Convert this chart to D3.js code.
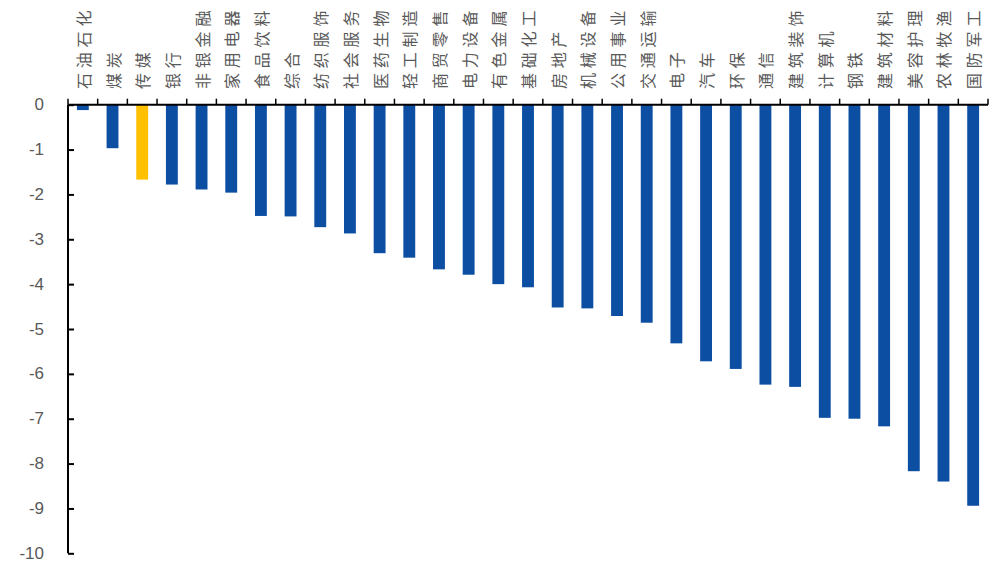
<!DOCTYPE html>
<html>
<head>
<meta charset="utf-8">
<script src="https://cdn.jsdelivr.net/npm/d3@7"></script>
<style>
  html, body { margin: 0; padding: 0; background: #fff; }
  svg { display: block; }
</style>
</head>
<body>
<svg id="chart" width="994" height="562"></svg>
<script>
// Industry names (申万一级) and their returns, %
const categories = ["石油石化","煤炭","传媒","银行","非银金融","家用电器","食品饮料","综合","纺织服饰","社会服务","医药生物","轻工制造","商贸零售","电力设备","有色金属","基础化工","房地产","机械设备","公用事业","交通运输","电子","汽车","环保","通信","建筑装饰","计算机","钢铁","建筑材料","美容护理","农林牧渔","国防军工"];
const values = [-0.12,-0.97,-1.67,-1.78,-1.89,-1.96,-2.48,-2.49,-2.73,-2.87,-3.31,-3.41,-3.67,-3.79,-4.0,-4.07,-4.52,-4.54,-4.71,-4.86,-5.32,-5.72,-5.89,-6.24,-6.29,-6.98,-7.0,-7.17,-8.17,-8.4,-8.94];
const highlighted = ["传媒"];
const yTicks = [0,-1,-2,-3,-4,-5,-6,-7,-8,-9,-10];

const svg = d3.select("#chart");
const plotLeft = 68, plotRight = 988, plotTop = 104.7, plotBottom = 553.3;

const x = d3.scaleBand().domain(categories).range([plotLeft, plotRight]).paddingInner(0.6).paddingOuter(0.3);
const xEdge = d3.scaleLinear().domain([0, categories.length]).range([plotLeft, plotRight]);
const y = d3.scaleLinear().domain([0, -10]).range([plotTop, plotBottom]);

// bars
svg.append("g").selectAll("rect").data(categories).join("rect")
  .attr("x", d => x(d))
  .attr("width", x.bandwidth())
  .attr("y", y(0))
  .attr("height", (d, i) => y(values[i]) - y(0))
  .attr("fill", d => highlighted.includes(d) ? "#FFC000" : "#0B4EA2");

// vertical axis with inward ticks
const yAxis = d3.axisRight(y).tickValues(yTicks).tickSize(6).tickFormat("");
const gy = svg.append("g").attr("transform", `translate(${plotLeft},0)`).call(yAxis);
gy.select(".domain").attr("stroke", "#000").attr("stroke-width", 2).attr("d", `M0,${plotTop}V${plotBottom}`);
gy.selectAll(".tick line").attr("stroke", "#000").attr("stroke-width", 2);

// y tick labels
svg.append("g").selectAll("text").data(yTicks).join("text")
  .attr("x", 44)
  .attr("y", d => y(d))
  .attr("text-anchor", "end")
  .attr("dominant-baseline", "central")
  .attr("font-family", "Liberation Sans, Arial, sans-serif")
  .attr("font-size", 17)
  .attr("fill", "#595959")
  .text(d => d);

// horizontal axis at zero with upward ticks at category boundaries
const gx = svg.append("g");
gx.append("line").attr("x1", plotLeft).attr("x2", plotRight).attr("y1", y(0)).attr("y2", y(0))
  .attr("stroke", "#000").attr("stroke-width", 2);
gx.selectAll("line.t").data(d3.range(categories.length + 1)).join("line")
  .attr("class", "t")
  .attr("x1", d => xEdge(d)).attr("x2", d => xEdge(d))
  .attr("y1", y(0)).attr("y2", y(0) - 6)
  .attr("stroke", "#000").attr("stroke-width", 1.5);

// rotated category labels above the axis
svg.append("g").selectAll("text").data(categories).join("text")
  .attr("transform", d => `translate(${x(d) + x.bandwidth() / 2},89) rotate(-90)`)
  .attr("text-anchor", "start")
  .attr("dominant-baseline", "central")
  .attr("font-family", "Noto Sans CJK SC, sans-serif")
  .attr("font-size", 16)
  .attr("letter-spacing", 4.8)
  .attr("fill", "#595959")
  .text(d => d);
</script>
</body>
</html>
